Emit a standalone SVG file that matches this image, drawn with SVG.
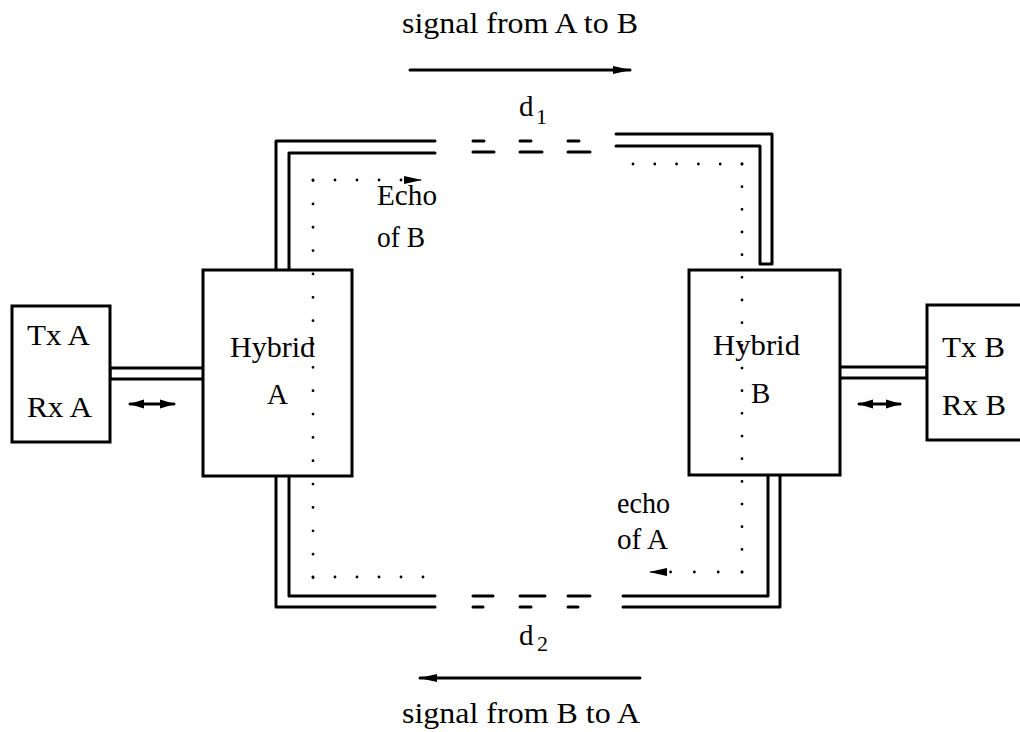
<svg xmlns="http://www.w3.org/2000/svg" width="1020" height="732" viewBox="0 0 1020 732">
<style>
.box{fill:#fff;stroke:#000;stroke-width:3}
.ln{fill:none;stroke:#000;stroke-width:3;stroke-linejoin:round;stroke-linecap:round}
.dot{fill:none;stroke:#000;stroke-width:2.8;stroke-linecap:round}
.t{font-family:"Liberation Serif","Times New Roman",serif;font-size:29px;fill:#000}
.s{font-family:"Liberation Serif","Times New Roman",serif;font-size:22px;fill:#000}
</style>
<defs>
<marker id="ah" markerUnits="userSpaceOnUse" markerWidth="20" markerHeight="10" refX="17" refY="5" orient="auto-start-reverse">
<path d="M0,1 L18,5 L0,9 z" fill="#000"/>
</marker>
<marker id="ahs" markerUnits="userSpaceOnUse" markerWidth="16" markerHeight="12" refX="14" refY="6" orient="auto-start-reverse">
<path d="M0,1.5 L15,6 L0,10.5 z" fill="#000"/>
</marker>
</defs>

<g id="connectors">
<path class="ln" d="M435,141 H276 V270"/>
<path class="ln" d="M435,153 H289 V270"/>
<path class="ln" d="M473,141 H484 M520,141 H531 M568,141 H579"/>
<path class="ln" d="M473,152 H494 M520,152 H542 M568,152 H590"/>
<path class="ln" d="M616,146 H760 V264 H772 V134 H616"/>
<path class="ln" d="M435,596 H289 V476"/>
<path class="ln" d="M435,607 H276 V476"/>
<path class="ln" d="M473,596 H493 M520,596 H545 M568,596 H590"/>
<path class="ln" d="M473,607 H483 M520,607 H531 M568,607 H578"/>
<path class="ln" d="M623,596 H768 V476"/>
<path class="ln" d="M623,607 H780 V476"/>
<path class="ln" d="M203,368 H110 V379 H203"/>
<path class="ln" d="M840,367 H927 V378 H840"/>
<line class="ln" x1="410" y1="70" x2="630" y2="70" marker-end="url(#ah)"/>
<line class="ln" x1="640" y1="678" x2="420" y2="678" marker-end="url(#ah)"/>
<line class="ln" x1="130" y1="404" x2="174" y2="404" marker-start="url(#ahs)" marker-end="url(#ahs)"/>
<line class="ln" x1="859" y1="404" x2="900" y2="404" marker-start="url(#ahs)" marker-end="url(#ahs)"/>
</g>

<g id="hybrid-a">
<rect class="box" x="203" y="270" width="149" height="206"/>
<text class="t" x="230" y="357" textLength="85" lengthAdjust="spacingAndGlyphs">Hybrid</text>
<text class="t" x="267" y="404">A</text>
</g>
<g id="hybrid-b">
<rect class="box" x="689" y="270" width="151" height="205"/>
<text class="t" x="713" y="355" textLength="87" lengthAdjust="spacingAndGlyphs">Hybrid</text>
<text class="t" x="751" y="403">B</text>
</g>
<g id="txrx-a">
<rect class="box" x="12" y="306" width="98" height="136"/>
<text class="t" x="27" y="345" textLength="63" lengthAdjust="spacingAndGlyphs">Tx A</text>
<text class="t" x="27" y="417" textLength="65" lengthAdjust="spacingAndGlyphs">Rx A</text>
</g>
<g id="txrx-b">
<rect class="box" x="927" y="305" width="110" height="135"/>
<text class="t" x="942" y="357" textLength="63" lengthAdjust="spacingAndGlyphs">Tx B</text>
<text class="t" x="942" y="415" textLength="64" lengthAdjust="spacingAndGlyphs">Rx B</text>
</g>

<g id="echo-paths">
<line class="dot" x1="313" y1="577.5" x2="313" y2="180" stroke-dasharray="0 23.35"/>
<line class="dot" x1="313" y1="180" x2="401.5" y2="180" stroke-dasharray="0 22"/>
<line x1="405" y1="180" x2="421" y2="180" stroke="#000" stroke-width="1" marker-end="url(#ah)"/>
<line class="dot" x1="313" y1="577" x2="423.5" y2="577" stroke-dasharray="0 22"/>
<line class="dot" x1="633" y1="164" x2="742.5" y2="164" stroke-dasharray="0 21.8"/>
<line class="dot" x1="742" y1="164" x2="742" y2="572.5" stroke-dasharray="0 22.67"/>
<line class="dot" x1="742" y1="572" x2="670.5" y2="572" stroke-dasharray="0 23.8"/>
<line x1="665" y1="572" x2="650" y2="572" stroke="#000" stroke-width="1" marker-end="url(#ah)"/>
</g>

<g id="labels">
<text class="t" x="402" y="33" textLength="236" lengthAdjust="spacingAndGlyphs">signal from A to B</text>
<text class="t" x="519" y="116">d</text><text class="s" x="536" y="124">1</text>
<text class="t" x="377" y="205" textLength="60" lengthAdjust="spacingAndGlyphs">Echo</text>
<text class="t" x="377" y="247" textLength="48" lengthAdjust="spacingAndGlyphs">of B</text>
<text class="t" x="617" y="513" textLength="53" lengthAdjust="spacingAndGlyphs">echo</text>
<text class="t" x="617" y="549" textLength="51" lengthAdjust="spacingAndGlyphs">of A</text>
<text class="t" x="519" y="645">d</text><text class="s" x="537" y="651">2</text>
<text class="t" x="402" y="723" textLength="238" lengthAdjust="spacingAndGlyphs">signal from B to A</text>
</g>
</svg>
